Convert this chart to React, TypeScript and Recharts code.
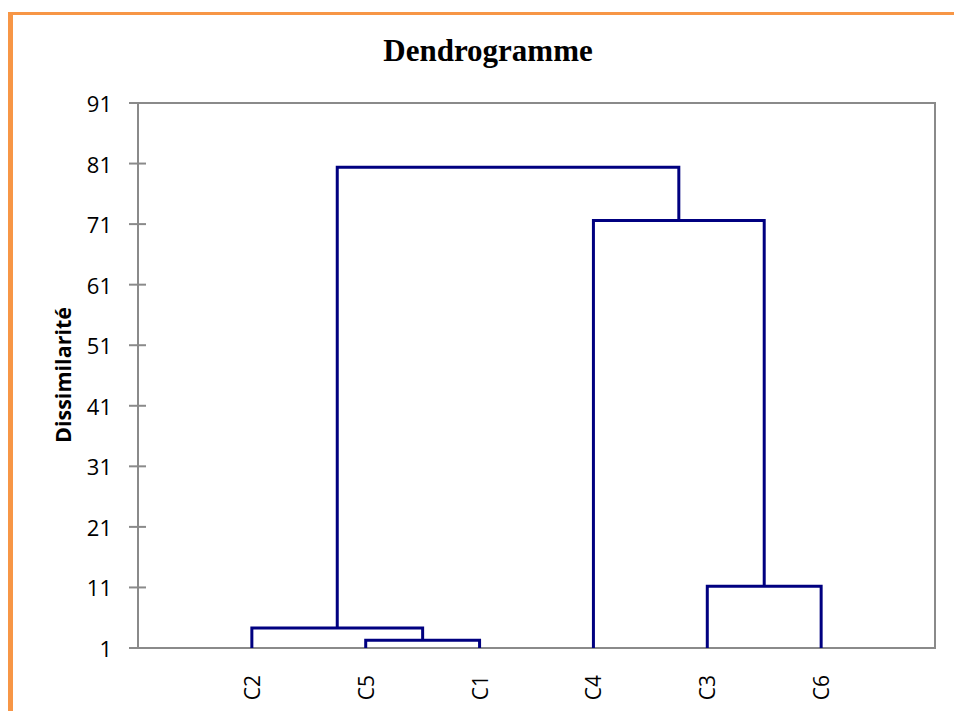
import React from 'react';
import { LineChart, Line, XAxis, YAxis, ReferenceArea } from 'recharts';

// leaf order along the x axis
const leaves = ['C2', 'C5', 'C1', 'C4', 'C3', 'C6'];

// agglomeration steps (children are leaf names or earlier merge ids)
const mergeIds = ['m1', 'm2', 'm3', 'm4', 'm5'];
const mergeLeft = ['C5', 'C2', 'C3', 'C4', 'm2'];
const mergeRight = ['C1', 'm1', 'C6', 'm3', 'm4'];
const mergeHeight = [2.3, 4.3, 11.2, 71.6, 80.4];

const yTicks = [1, 11, 21, 31, 41, 51, 61, 71, 81, 91];
const xTicks = [1, 2, 3, 4, 5, 6];

const BASE = 1;
const NAVY = '#000080';
const GREY = '#8a8a8a';

const W = 954;
const H = 711;
const AXIS_X = 138;
const LABEL_TOP = 675;

// position / height of every node, leaves first
const nodePos: Record<string, number> = {};
const nodeHeight: Record<string, number> = {};
leaves.forEach((name, i) => {
  nodePos[name] = i + 1;
  nodeHeight[name] = BASE;
});
const links = mergeIds.map((id, i) => {
  const l = mergeLeft[i];
  const r = mergeRight[i];
  const h = mergeHeight[i];
  nodePos[id] = (nodePos[l] + nodePos[r]) / 2;
  nodeHeight[id] = h;
  return {
    id,
    data: [
      { x: nodePos[l], y: nodeHeight[l] },
      { x: nodePos[l], y: h },
      { x: nodePos[r], y: h },
      { x: nodePos[r], y: nodeHeight[r] },
    ],
  };
});

const YTick = (props: any) => {
  const { y, payload } = props;
  return (
    <g>
      <line x1={AXIS_X - 9} x2={AXIS_X + 8} y1={y} y2={y} stroke={GREY} strokeWidth={2} />
      <text
        x={AXIS_X - 26}
        y={y}
        textAnchor="end"
        dominantBaseline="central"
        fontFamily="'Open Sans', sans-serif"
        fontSize={22}
        fill="#000"
      >
        {payload.value}
      </text>
    </g>
  );
};

const XTick = (props: any) => {
  const { x, payload } = props;
  return (
    <text
      x={x}
      y={LABEL_TOP}
      transform={`rotate(-90, ${x}, ${LABEL_TOP})`}
      textAnchor="end"
      dominantBaseline="central"
      fontFamily="'Open Sans', sans-serif"
      fontSize={21}
      fill="#000"
    >
      {leaves[payload.value - 1]}
    </text>
  );
};

export default function App() {
  return (
    <div
      style={{
        position: 'absolute',
        left: 0,
        top: 0,
        width: W,
        height: H,
        overflow: 'hidden',
        background: '#fff',
      }}
    >
      <div
        style={{
          position: 'absolute',
          left: 8,
          top: 12,
          width: W + 20,
          height: H + 20,
          borderTop: '3px solid #F79646',
          borderLeft: '5px solid #F79646',
        }}
      />
      <div style={{ position: 'absolute', left: 0, top: 0 }}>
        <LineChart width={W} height={H} margin={{ top: 103, right: 19, bottom: 23, left: 78 }}>
          <XAxis
            type="number"
            dataKey="x"
            domain={[0, 7]}
            ticks={xTicks}
            tick={<XTick />}
            tickLine={false}
            axisLine={false}
            height={40}
            interval={0}
          />
          <YAxis
            type="number"
            domain={[BASE, 91]}
            ticks={yTicks}
            tick={<YTick />}
            tickLine={false}
            axisLine={false}
            width={60}
            interval={0}
          />
          <ReferenceArea x1={0} x2={7} y1={BASE} y2={91} fill="none" stroke={GREY} strokeWidth={2} />
          {links.map((lk) => (
            <Line
              key={lk.id}
              data={lk.data}
              dataKey="y"
              type="linear"
              stroke={NAVY}
              strokeWidth={3}
              dot={false}
              activeDot={false}
              isAnimationActive={false}
            />
          ))}
        </LineChart>
      </div>
      <svg
        width={W}
        height={H}
        style={{ position: 'absolute', left: 0, top: 0, pointerEvents: 'none' }}
      >
        <text
          x={488}
          y={61}
          textAnchor="middle"
          fontFamily="'Liberation Serif', 'Times New Roman', serif"
          fontWeight="bold"
          fontSize={31}
          fill="#000"
        >
          Dendrogramme
        </text>
        <text
          x={62}
          y={375}
          transform="rotate(-90, 62, 375)"
          textAnchor="middle"
          dominantBaseline="central"
          fontFamily="'Open Sans', sans-serif"
          fontWeight="bold"
          fontSize={21.5}
          fill="#000"
        >
          Dissimilarité
        </text>
      </svg>
    </div>
  );
}
